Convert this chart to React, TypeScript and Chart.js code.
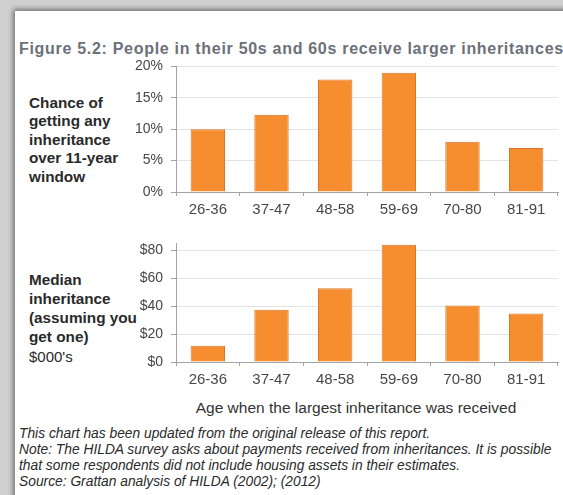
import React, { useEffect, useRef } from 'react';
import { Chart, registerables } from 'chart.js';

Chart.register(...registerables);

const categories = ['26-36', '37-47', '48-58', '59-69', '70-80', '81-91'];
const chanceValues = [10.0, 12.3, 17.9, 19.0, 8.0, 7.0];
const medianValues = [11.7, 37.5, 52.8, 84.0, 40.5, 34.8];
const chanceTicks = [0, 5, 10, 15, 20];
const medianTicks = [0, 20, 40, 60, 80];
const chanceLabelLines = ['Chance of', 'getting any', 'inheritance', 'over 11-year', 'window'];
const medianLabelLines = ['Median', 'inheritance', '(assuming you', 'get one)'];
const medianUnit = "$000's";
const titleText = 'Figure 5.2: People in their 50s and 60s receive larger inheritances';
const xAxisTitle = 'Age when the largest inheritance was received';
const footnotes = [
  'This chart has been updated from the original release of this report.',
  'Note: The HILDA survey asks about payments received from inheritances. It is possible',
  'that some respondents did not include housing assets in their estimates.',
  'Source: Grattan analysis of HILDA (2002); (2012)',
];

const FONT = "'Liberation Sans', Arial, Helvetica, sans-serif";
const BAR = '#F68D2E';
const BAR_EDGE = '#D8772A';
const AXIS = '#a3a3a3';
const GRID = '#e3e3e3';
const TICK_TEXT = '#474747';

function makeChart(
  canvas: HTMLCanvasElement,
  values: number[],
  tickValues: number[],
  max: number,
  fmt: (v: number) => string
) {
  return new Chart(canvas, {
    type: 'bar',
    data: {
      labels: categories,
      datasets: [
        {
          data: values,
          backgroundColor: BAR,
          borderColor: BAR_EDGE,
          borderWidth: 1,
          barPercentage: 0.54,
          categoryPercentage: 1,
        },
      ],
    },
    options: {
      responsive: false,
      animation: false,
      devicePixelRatio: 1,
      layout: { padding: { top: 10, right: 5, left: 0, bottom: 0 } },
      plugins: { legend: { display: false }, tooltip: { enabled: false }, title: { display: false } },
      scales: {
        x: {
          type: 'category',
          offset: true,
          grid: {
            display: true,
            drawOnChartArea: false,
            drawTicks: true,
            tickLength: 4,
            color: AXIS,
            offset: true,
          },
          border: { display: true, color: AXIS, width: 1 },
          ticks: {
            font: { family: FONT, size: 15 },
            color: TICK_TEXT,
            padding: 5,
            maxRotation: 0,
            autoSkip: false,
          },
          afterFit: (s: any) => {
            s.height = 30;
          },
        },
        y: {
          min: 0,
          max: max,
          afterBuildTicks: (s: any) => {
            s.ticks = tickValues.map((v) => ({ value: v }));
          },
          grid: {
            color: GRID,
            tickColor: AXIS,
            tickLength: 5,
            drawTicks: true,
          },
          border: { display: true, color: AXIS, width: 1 },
          ticks: {
            font: { family: FONT, size: 14 },
            color: TICK_TEXT,
            padding: 8,
            callback: (v: any) => fmt(Number(v)),
          },
          afterFit: (s: any) => {
            s.width = 76;
          },
        },
      },
    },
  } as any);
}

function ChartCanvas(props: {
  top: number;
  height: number;
  values: number[];
  tickValues: number[];
  max: number;
  fmt: (v: number) => string;
}) {
  const ref = useRef<HTMLCanvasElement | null>(null);
  useEffect(() => {
    if (!ref.current) return;
    const c = makeChart(ref.current, props.values, props.tickValues, props.max, props.fmt);
    return () => c.destroy();
  }, []);
  return (
    <canvas
      ref={ref}
      width={463}
      height={props.height}
      style={{ position: 'absolute', left: 100, top: props.top, width: 463, height: props.height }}
    />
  );
}

function TextLine(props: {
  text: string;
  left: number;
  cy: number;
  size: number;
  lh?: number;
  bold?: boolean;
  italic?: boolean;
  color?: string;
  center?: boolean;
  spacing?: number;
}) {
  const lh = props.lh ?? Math.round(props.size * 1.2);
  return (
    <div
      style={{
        position: 'absolute',
        left: props.left,
        top: props.cy - lh / 2,
        lineHeight: lh + 'px',
        fontSize: props.size,
        fontFamily: FONT,
        fontWeight: props.bold ? 'bold' : 'normal',
        fontStyle: props.italic ? 'italic' : 'normal',
        letterSpacing: props.spacing ? props.spacing + 'px' : undefined,
        color: props.color ?? '#333',
        whiteSpace: 'nowrap',
        transform: props.center ? 'translateX(-50%)' : undefined,
      }}
    >
      {props.text}
    </div>
  );
}

export default function App() {
  return (
    <div
      style={{
        position: 'absolute',
        left: 0,
        top: 0,
        width: 563,
        height: 495,
        overflow: 'hidden',
        background: '#d0d0d0',
      }}
    >
      <div
        style={{
          position: 'absolute',
          left: 15,
          top: 11,
          width: 600,
          height: 520,
          background: '#ffffff',
          boxShadow: '-2px -2px 5px rgba(0,0,0,0.45)',
        }}
      />
      <TextLine text={titleText} left={19} cy={48.5} size={16} bold color="#6c7078" spacing={0.7} />
      {chanceLabelLines.map((t, i) => (
        <TextLine key={'c' + i} text={t} left={29} cy={102.7 + i * 18.5} size={15.3} bold color="#2a2a2a" />
      ))}
      {medianLabelLines.map((t, i) => (
        <TextLine key={'m' + i} text={t} left={29} cy={280 + i * 19} size={15.3} bold color="#2a2a2a" />
      ))}
      <TextLine text={medianUnit} left={29} cy={356.5} size={15} color="#2a2a2a" />
      <ChartCanvas
        top={50}
        height={172}
        values={chanceValues}
        tickValues={chanceTicks}
        max={20}
        fmt={(v) => v + '%'}
      />
      <ChartCanvas
        top={227}
        height={165}
        values={medianValues}
        tickValues={medianTicks}
        max={85}
        fmt={(v) => '$' + v}
      />
      <TextLine text={xAxisTitle} left={356} cy={407} size={15.5} color="#333" center />
      {footnotes.map((t, i) => (
        <TextLine key={'f' + i} text={t} left={19} cy={433 + i * 16} size={13.8} italic color="#2a2a2a" />
      ))}
    </div>
  );
}
